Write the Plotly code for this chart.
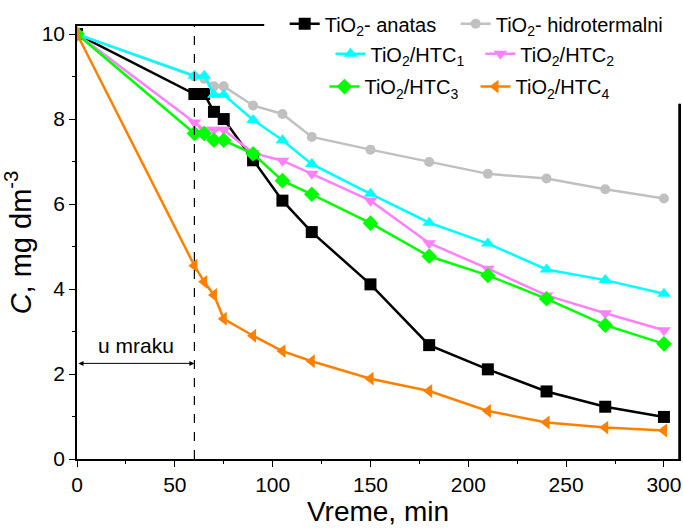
import plotly.graph_objects as go

t = [0, 60, 65, 70, 75, 90, 105, 120, 150, 180, 210, 240, 270, 300]

anatas = [10, 8.59, 8.59, 8.17, 8.0, 7.03, 6.08, 5.34, 4.11, 2.68, 2.11, 1.59, 1.23, 0.99]
hidro = [10, 9.0, 8.95, 8.77, 8.77, 8.32, 8.12, 7.58, 7.28, 6.99, 6.71, 6.6, 6.35, 6.13]
htc1 = [10, 9.02, 9.02, 8.57, 8.57, 7.98, 7.5, 6.94, 6.24, 5.56, 5.07, 4.46, 4.21, 3.89]
htc2 = [10, 7.92, 7.75, 7.75, 7.75, 7.2, 7.02, 6.71, 6.08, 5.08, 4.48, 3.85, 3.43, 3.03]
htc3 = [10, 7.66, 7.66, 7.5, 7.5, 7.18, 6.55, 6.23, 5.55, 4.77, 4.32, 3.77, 3.15, 2.71]
htc4 = [10, 4.55, 4.17, 3.86, 3.3, 2.9, 2.54, 2.3, 1.89, 1.6, 1.13, 0.86, 0.74, 0.67]

names = ["TiO<sub>2</sub>- anatas", "TiO<sub>2</sub>- hidrotermalni",
         "TiO<sub>2</sub>/HTC<sub>1</sub>", "TiO<sub>2</sub>/HTC<sub>2</sub>",
         "TiO<sub>2</sub>/HTC<sub>3</sub>", "TiO<sub>2</sub>/HTC<sub>4</sub>"]
values = [anatas, hidro, htc1, htc2, htc3, htc4]
colors = ["#000000", "#C0C0C0", "#00FFFF", "#FF80FF", "#00FF00", "#FF8000"]
symbols = ["square", "circle", "triangle-up", "triangle-down", "diamond", "triangle-left"]
msizes = [12, 10, 12, 12, 12, 12]
leg_pos = [(0.345, 1.005), (0.629, 1.005), (0.421, 0.936), (0.670, 0.936),
           (0.411, 0.860), (0.662, 0.860)]

font = "Liberation Sans, Arial, sans-serif"
fig = go.Figure()
layout_legends = {}
for i, (name, vals, col, sym, ms) in enumerate(zip(names, values, colors, symbols, msizes)):
    lid = "legend" if i == 0 else f"legend{i+1}"
    fig.add_trace(go.Scatter(
        x=t, y=vals, name=name, mode="lines+markers",
        line=dict(color=col, width=2.5),
        marker=dict(symbol=sym, size=ms, color=col),
        legend=lid,
    ))
    lx, ly = leg_pos[i]
    layout_legends[lid] = dict(x=lx, y=ly, xanchor="left", yanchor="middle",
                               bgcolor="rgba(0,0,0,0)", font=dict(size=20),
                               itemwidth=30, borderwidth=0)

fig.update_layout(
    width=683, height=531,
    margin=dict(l=77, r=4, t=24, b=72),
    paper_bgcolor="white", plot_bgcolor="white",
    font=dict(family=font, size=21, color="black"),
    showlegend=True,
    **layout_legends,
)
fig.update_xaxes(
    range=[0, 307.7], tickvals=[0, 50, 100, 150, 200, 250, 300],
    ticks="outside", ticklen=6, tickwidth=1.2, tickcolor="black",
    minor=dict(dtick=25, tick0=0, ticks="outside", ticklen=3, tickcolor="black"),
    showline=True, linecolor="black", linewidth=1.5, mirror=True,
    showgrid=False, zeroline=False, automargin=False,
    title=dict(text="Vreme, min", font=dict(size=28), standoff=2),
)
fig.update_yaxes(
    range=[0, 10.19], tickvals=[0, 2, 4, 6, 8, 10],
    ticks="outside", ticklen=6, tickwidth=1.2, tickcolor="black",
    minor=dict(dtick=1, tick0=0, ticks="outside", ticklen=3, tickcolor="black"),
    showline=True, linecolor="black", linewidth=1.5, mirror=True,
    showgrid=False, zeroline=False, automargin=False,
    title=dict(text="<i>C</i>, mg dm<sup>-3</sup>", font=dict(size=29), standoff=2),
)
fig.add_shape(type="line", x0=60, x1=60, y0=0, y1=1, xref="x", yref="paper",
              line=dict(color="black", width=1.2, dash="dash"))
# white legend backdrop covering the frame corner (as in the reference)
fig.add_shape(type="rect", x0=0.311, x1=1.05, y0=0.8207, y1=1.1, xref="paper", yref="paper",
              fillcolor="white", line=dict(width=0), layer="above")
# right frame segment below the legend backdrop
fig.add_shape(type="line", x0=1, x1=1, y0=0, y1=0.8207, xref="paper", yref="paper",
              line=dict(color="black", width=1.5), layer="above")
fig.add_annotation(x=60, y=2.25, ax=0, ay=2.25, xref="x", yref="y", axref="x", ayref="y",
                   text="", showarrow=True, arrowhead=2, arrowside="end+start",
                   arrowsize=1, arrowwidth=1, arrowcolor="black", startarrowhead=2)
fig.add_annotation(x=30, y=2.66, xref="x", yref="y", text="u mraku", showarrow=False,
                   font=dict(size=21))

fig.write_html("out.html", config={"displayModeBar": False},
               post_script="document.body.style.margin='0';document.body.style.overflow='hidden';")
